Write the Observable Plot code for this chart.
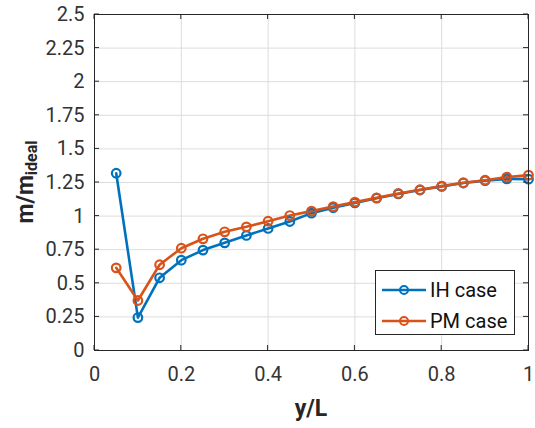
<!DOCTYPE html>
<html>
<head>
<meta charset="utf-8">
<script src="https://cdn.jsdelivr.net/npm/d3@7"></script>
<script src="https://cdn.jsdelivr.net/npm/@observablehq/plot@0.6"></script>
<style>
  html, body { margin: 0; padding: 0; background: white; }
  #wrap { position: relative; width: 535px; height: 428px; font-family: Roboto, sans-serif; }
  .legend { position: absolute; left: 375px; top: 270px; width: 140px; height: 65px; box-sizing: border-box;
    border: 1px solid #262626; background: white; }
  .item { position: absolute; left: 0; display: flex; align-items: center; font-size: 20px; color: #111; }
</style>
</head>
<body>
<div id="wrap"></div>
<script>
const yL = [0.05, 0.1, 0.15, 0.2, 0.25, 0.3, 0.35, 0.4, 0.45, 0.5, 0.55, 0.6, 0.65, 0.7, 0.75, 0.8, 0.85, 0.9, 0.95, 1.0];
const ihCase = [1.319, 0.245, 0.541, 0.672, 0.747, 0.801, 0.856, 0.908, 0.960, 1.022, 1.062, 1.098, 1.133, 1.165, 1.194, 1.221, 1.246, 1.264, 1.277, 1.275];
const pmCase = [0.615, 0.372, 0.638, 0.761, 0.831, 0.883, 0.920, 0.962, 1.004, 1.037, 1.071, 1.104, 1.136, 1.168, 1.196, 1.223, 1.248, 1.267, 1.290, 1.305];
const seriesNames = ["IH case", "PM case"];
const seriesColors = ["#0072BD", "#D95319"];
const xTicks = [0, 0.2, 0.4, 0.6, 0.8, 1];
const yTicks = [0, 0.25, 0.5, 0.75, 1, 1.25, 1.5, 1.75, 2, 2.25, 2.5];
const xLabel = "y/L";

const data = [];
yL.forEach((x, i) => {
  data.push({x, y: ihCase[i], s: seriesNames[0]});
});
yL.forEach((x, i) => {
  data.push({x, y: pmCase[i], s: seriesNames[1]});
});

const plot = Plot.plot({
  width: 535, height: 428,
  marginLeft: 94, marginRight: 7, marginTop: 14, marginBottom: 78,
  style: {fontFamily: "Roboto, sans-serif", fontSize: "20px", color: "#333", background: "white", overflow: "visible"},
  x: {domain: [0, 1]},
  y: {domain: [0, 2.5]},
  color: {domain: seriesNames, range: seriesColors},
  marks: [
    Plot.gridX(xTicks, {stroke: "#dcdcdc", strokeOpacity: 1, strokeWidth: 1}),
    Plot.gridY(yTicks, {stroke: "#dcdcdc", strokeOpacity: 1, strokeWidth: 1}),
    Plot.axisX(xTicks, {tickSize: 0, tickPadding: 16, tickFormat: d => String(d), label: null, fill: "#333"}),
    Plot.axisY(yTicks, {tickSize: 0, tickPadding: 10, tickFormat: d => String(d), label: null, fill: "#333"}),
    Plot.line(data, {x: "x", y: "y", z: "s", stroke: "s", strokeWidth: 2.6}),
    Plot.dot(data, {x: "x", y: "y", stroke: "s", r: 4.3, strokeWidth: 2.2, fill: "none"}),
    Plot.frame({stroke: "#262626", strokeWidth: 1})
  ]
});

// inward tick marks on all four sides, positioned through the plot's scales
const sx = plot.scale("x"), sy = plot.scale("y");
const svg = d3.select(plot);
const [x0, x1] = sx.range, [y0, y1] = sy.range; // y0 bottom, y1 top
const tl = 5;
const g = svg.append("g").attr("stroke", "#262626").attr("stroke-width", 1);
xTicks.forEach(t => {
  const px = sx.apply(t);
  g.append("line").attr("x1", px).attr("x2", px).attr("y1", y0).attr("y2", y0 - tl);
  g.append("line").attr("x1", px).attr("x2", px).attr("y1", y1).attr("y2", y1 + tl);
});
yTicks.forEach(t => {
  const py = sy.apply(t);
  g.append("line").attr("x1", x0).attr("x2", x0 + tl).attr("y1", py).attr("y2", py);
  g.append("line").attr("x1", x1).attr("x2", x1 - tl).attr("y1", py).attr("y2", py);
});

// axis labels
svg.append("text")
  .attr("x", (x0 + x1) / 2).attr("y", 416)
  .attr("text-anchor", "middle")
  .attr("font-weight", "bold").attr("font-size", 23).attr("fill", "#262626")
  .text(xLabel);
const yl = svg.append("text")
  .attr("transform", `translate(33,${(y0 + y1) / 2}) rotate(-90)`)
  .attr("text-anchor", "middle")
  .attr("font-weight", "bold").attr("font-size", 23).attr("fill", "#262626");
yl.append("tspan").text("m/m");
yl.append("tspan").attr("font-size", 16).attr("dy", 4).text("ideal");

document.getElementById("wrap").appendChild(plot);

// legend
const leg = document.createElement("div");
leg.className = "legend";
seriesNames.forEach((name, i) => {
  const it = document.createElement("div");
  it.className = "item";
  it.style.top = (i === 0 ? 7 : 38) + "px";
  const c = seriesColors[i];
  it.innerHTML = `<svg width="50" height="20" style="margin-left:4px"><line x1="2" x2="46" y1="10" y2="10" stroke="${c}" stroke-width="2.5"/><circle cx="24" cy="10" r="4" fill="none" stroke="${c}" stroke-width="2"/></svg><span style="margin-left:0px">${name}</span>`;
  leg.appendChild(it);
});
document.getElementById("wrap").appendChild(leg);
</script>
</body>
</html>
